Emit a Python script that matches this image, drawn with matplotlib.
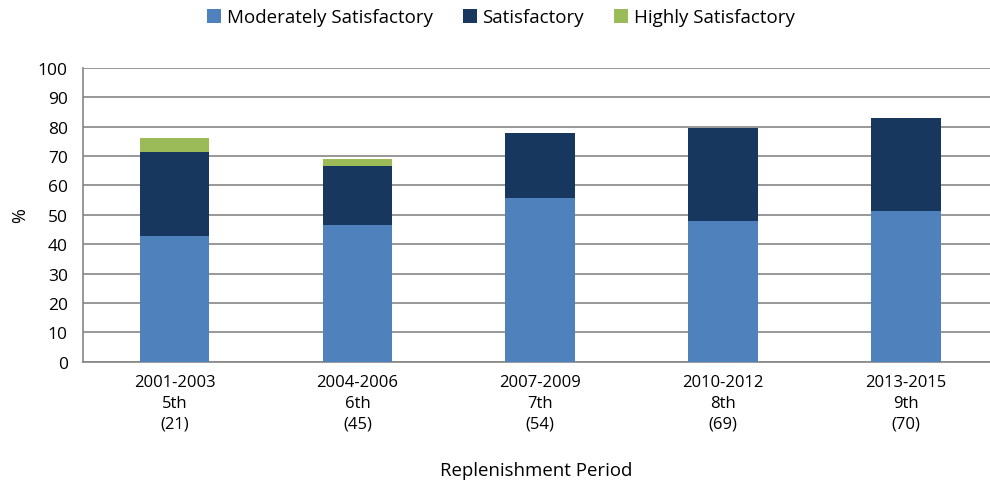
import matplotlib.pyplot as plt
import numpy as np

plt.rcParams['font.family'] = ['Open Sans', 'DejaVu Sans']

periods = ['2001-2003\n5th\n(21)', '2004-2006\n6th\n(45)', '2007-2009\n7th\n(54)',
           '2010-2012\n8th\n(69)', '2013-2015\n9th\n(70)']
moderately = [42.9, 46.7, 55.6, 47.8, 51.4]
satisfactory = [28.6, 20.0, 22.2, 31.9, 31.4]
highly = [4.8, 2.2, 0, 0, 0]

fig, ax = plt.subplots(figsize=(9.9, 4.85), dpi=100)
fig.subplots_adjust(left=0.084, right=1.0, top=0.858, bottom=0.252)

x = np.arange(len(periods))
w = 0.38
ax.bar(x, moderately, w, color='#4F81BD', label='Moderately Satisfactory', zorder=3)
ax.bar(x, satisfactory, w, bottom=moderately, color='#17375E', label='Satisfactory', zorder=3)
bottom2 = [a + b for a, b in zip(moderately, satisfactory)]
ax.bar(x, highly, w, bottom=bottom2, color='#9BBB59', label='Highly Satisfactory', zorder=3)

ax.set_ylim(0, 100)
ax.set_yticks(range(0, 101, 10))
ax.set_xlim(-0.5, 4.46)
ax.set_xticks(x)
ax.set_xticklabels(periods, fontsize=12, linespacing=1.4)
ax.tick_params(axis='y', labelsize=12.5, length=0, pad=11)
ax.tick_params(axis='x', length=0, pad=9)
ax.yaxis.grid(True, color='#868686', linewidth=1.2, zorder=0)
for s in ['top', 'right']:
    ax.spines[s].set_visible(False)
for s in ['left', 'bottom']:
    ax.spines[s].set_color('#868686')
    ax.spines[s].set_linewidth(1.2)

ax.set_ylabel('%', fontsize=13)
ax.yaxis.set_label_coords(-0.06, 0.5)
ax.set_xlabel('Replenishment Period', fontsize=13.4, labelpad=21)

fig.legend(loc='center', bbox_to_anchor=(0.506, 0.962), ncol=3, frameon=False,
           fontsize=13.5, handlelength=0.75, handleheight=0.75, columnspacing=1.6, handletextpad=0.3)

fig.savefig('out.png', dpi=100)
